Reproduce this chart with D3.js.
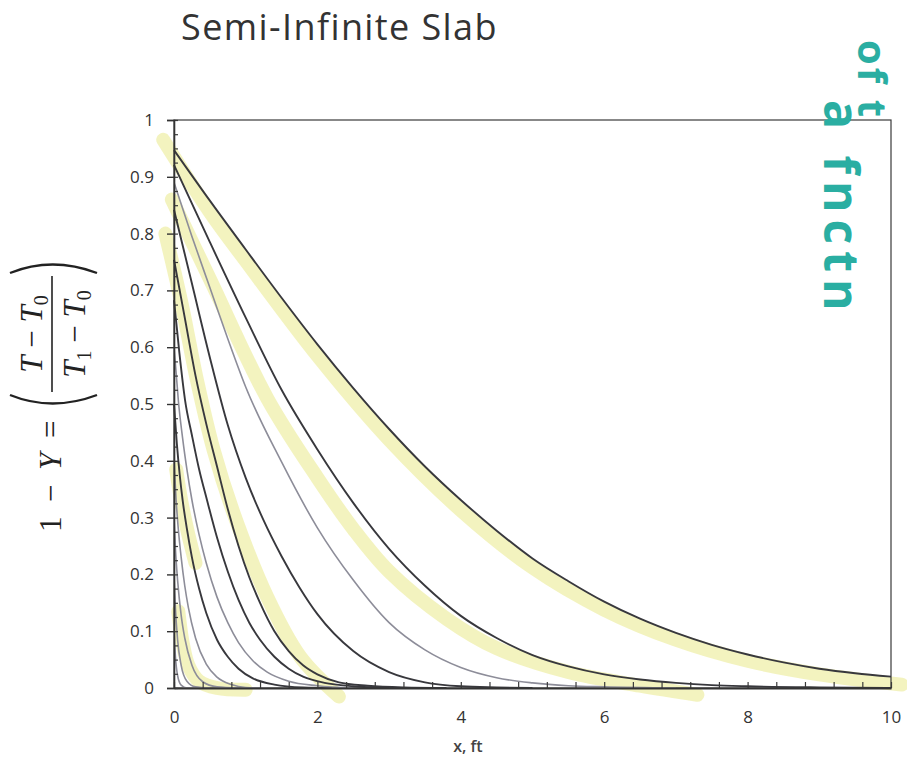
<!DOCTYPE html>
<html>
<head>
<meta charset="utf-8">
<script src="https://cdn.jsdelivr.net/npm/d3@7"></script>
<style>
  html, body { margin: 0; padding: 0; background: #fff; }
  svg { display: block; }
</style>
</head>
<body>
<div id="chart"></div>
<script>
// profiles 1 - Y vs x (ft), widest first
const curveNames = ['t1', 't2', 't3', 't4', 't5', 't6', 't7', 't8', 't9', 't10', 't11', 't12'];
const curveTones = ['dark', 'dark', 'gray', 'dark', 'dark', 'dark', 'gray', 'dark', 'gray', 'gray', 'gray', 'gray'];

const t1 = [[0, 0.947], [0.5, 0.858], [1.0, 0.772], [1.5, 0.687], [2.0, 0.605], [2.5, 0.528], [3.0, 0.456], [3.5, 0.39], [4.0, 0.331], [4.5, 0.277], [5.0, 0.228], [5.5, 0.188], [6.0, 0.152], [6.5, 0.122], [7.0, 0.097], [7.5, 0.076], [8.0, 0.059], [8.5, 0.045], [9.0, 0.034], [9.5, 0.026], [10, 0.02]];
const t2 = [[0, 0.921], [0.5, 0.785], [1.0, 0.652], [1.5, 0.525], [2.0, 0.42], [2.5, 0.326], [3.0, 0.245], [3.5, 0.18], [4.0, 0.127], [4.5, 0.088], [5.0, 0.058], [5.5, 0.038], [6.0, 0.024], [6.5, 0.015], [7.0, 0.009], [7.5, 0.005], [8.0, 0.003], [9.0, 0.001], [10, 0]];
const t3 = [[0, 0.89], [0.25, 0.795], [0.5, 0.705], [0.75, 0.615], [1.0, 0.53], [1.5, 0.398], [2.0, 0.282], [2.5, 0.19], [3.0, 0.115], [3.5, 0.067], [4.0, 0.036], [4.5, 0.018], [5.0, 0.009], [5.5, 0.004], [6.0, 0.002], [7.0, 0]];
const t4 = [[0, 0.842], [0.25, 0.712], [0.5, 0.582], [0.75, 0.463], [1.0, 0.37], [1.25, 0.295], [1.5, 0.232], [1.75, 0.177], [2.0, 0.13], [2.5, 0.065], [3.0, 0.028], [3.5, 0.01], [4.0, 0.003], [4.5, 0.001], [5.0, 0]];
const t5 = [[0, 0.754], [0.15, 0.652], [0.3, 0.55], [0.45, 0.465], [0.6, 0.39], [0.75, 0.315], [0.9, 0.25], [1.05, 0.195], [1.2, 0.15], [1.4, 0.1], [1.6, 0.065], [1.8, 0.04], [2.0, 0.024], [2.3, 0.01], [2.7, 0.004], [3.2, 0.001], [3.8, 0]];
const t6 = [[0, 0.683], [0.075, 0.59], [0.154, 0.507], [0.25, 0.445], [0.35, 0.385], [0.46, 0.331], [0.6, 0.265], [0.75, 0.205], [0.9, 0.155], [1.05, 0.115], [1.2, 0.085], [1.4, 0.055], [1.6, 0.034], [1.8, 0.02], [2.1, 0.009], [2.5, 0.003], [3.0, 0]];
const t7 = [[0, 0.6], [0.03, 0.555], [0.06, 0.507], [0.12, 0.44], [0.18, 0.385], [0.25, 0.331], [0.35, 0.27], [0.45, 0.22], [0.6, 0.16], [0.75, 0.115], [0.9, 0.08], [1.1, 0.048], [1.3, 0.028], [1.6, 0.012], [2.0, 0.004], [2.5, 0]];
const t8 = [[0, 0.5], [0.04, 0.43], [0.08, 0.375], [0.12, 0.331], [0.18, 0.28], [0.25, 0.23], [0.35, 0.175], [0.45, 0.132], [0.6, 0.085], [0.75, 0.055], [0.9, 0.034], [1.1, 0.017], [1.4, 0.006], [1.8, 0.001], [2.2, 0]];
const t9 = [[0, 0.4], [0.03, 0.33], [0.06, 0.28], [0.1, 0.23], [0.15, 0.18], [0.2, 0.142], [0.3, 0.088], [0.45, 0.042], [0.6, 0.019], [0.8, 0.006], [1.0, 0.001], [1.3, 0]];
const t10 = [[0, 0.3], [0.02, 0.245], [0.05, 0.19], [0.1, 0.128], [0.15, 0.088], [0.25, 0.04], [0.4, 0.011], [0.6, 0.002], [0.9, 0]];
const t11 = [[0, 0.2], [0.02, 0.14], [0.05, 0.085], [0.1, 0.04], [0.18, 0.012], [0.3, 0.002], [0.5, 0]];
const t12 = [[0, 0.1], [0.02, 0.055], [0.05, 0.022], [0.1, 0.005], [0.18, 0], [0.3, 0]];
const curves = [t1, t2, t3, t4, t5, t6, t7, t8, t9, t10, t11, t12];

// highlighter strokes someone put on the printout (data units)
const hl1 = [[-0.15, 0.965], [0.5, 0.838], [1.0, 0.752], [2.0, 0.585], [3.0, 0.437], [4.0, 0.313], [5.0, 0.212], [6.0, 0.138], [7.0, 0.085], [8.0, 0.048], [9.0, 0.024], [10.15, 0.006]];
const hl2 = [[-0.03, 0.86], [0.5, 0.72], [1.3, 0.51], [2.0, 0.37], [2.5, 0.28], [3.0, 0.205], [3.8, 0.122], [4.5, 0.07], [5.5, 0.028], [6.5, 0.004], [7.3, -0.012]];
const hl3 = [[-0.12, 0.8], [0.1, 0.68], [0.32, 0.542], [0.55, 0.42], [0.83, 0.308], [1.3, 0.16], [1.76, 0.055], [2.3, -0.015]];
const hl4 = [[0.03, 0.385], [0.1, 0.33], [0.2, 0.27], [0.3, 0.22]];
const hl5 = [[0.06, 0.135], [0.12, 0.08], [0.2, 0.04], [0.35, 0.012], [0.6, 0.0], [1.0, -0.003]];
const highlights = [hl1, hl2, hl3, hl4, hl5];

const xTicks = [0, 2, 4, 6, 8, 10];
const yTicks = [0, 0.1, 0.2, 0.3, 0.4, 0.5, 0.6, 0.7, 0.8, 0.9, 1];

const W = 907, H = 764;
const svg = d3.select('#chart').append('svg')
    .attr('width', W)
    .attr('height', H);

const x = d3.scaleLinear().domain([0, 10]).range([174, 891]);
const y = d3.scaleLinear().domain([0, 1]).range([688, 120]);

const line = d3.line()
    .x(d => x(d[0]))
    .y(d => y(d[1]))
    .curve(d3.curveMonotoneX);

const hlLine = d3.line()
    .x(d => x(d[0]))
    .y(d => y(d[1]))
    .curve(d3.curveCatmullRom);

// highlighter first, under everything
highlights.forEach(h => {
    svg.append('path')
        .attr('d', hlLine(h))
        .attr('fill', 'none')
        .attr('stroke', '#f1f1b4')
        .attr('stroke-opacity', 0.85)
        .attr('stroke-width', 14)
        .attr('stroke-linecap', 'round')
        .attr('stroke-linejoin', 'round');
});

// plot frame
svg.append('rect')
    .attr('x', x(0))
    .attr('y', y(1))
    .attr('width', x(10) - x(0))
    .attr('height', y(0) - y(1))
    .attr('fill', 'none')
    .attr('stroke', '#3a3a3a')
    .attr('stroke-width', 1.2);

// curves, narrow ones first so the wide ones sit on top
d3.range(curves.length).reverse().forEach(i => {
    const dark = curveTones[i] === 'dark';
    svg.append('path')
        .attr('class', 'curve ' + curveNames[i])
        .attr('d', line(curves[i]))
        .attr('fill', 'none')
        .attr('stroke', dark ? '#38383d' : '#8d8d99')
        .attr('stroke-width', dark ? 1.9 : 1.6);
});

const labelFont = '"Open Sans", "Liberation Sans", sans-serif';

// x axis: inner minor ticks every 0.4, labels every 2
svg.append('g')
    .attr('transform', `translate(0,${y(0)})`)
    .call(d3.axisBottom(x).tickValues(d3.range(0, 10.001, 0.4)).tickSize(-6).tickFormat(''))
    .call(g => g.select('.domain').remove())
    .call(g => g.selectAll('line').attr('stroke', '#3a3a3a').attr('stroke-width', 1.2));

svg.append('g')
    .attr('transform', `translate(0,${y(0)})`)
    .call(d3.axisBottom(x).tickValues(xTicks).tickSize(0).tickPadding(23).tickFormat(d3.format('d')))
    .call(g => g.select('.domain').attr('stroke', '#333').attr('stroke-width', 2.2))
    .call(g => g.selectAll('text')
        .attr('font-family', labelFont)
        .attr('font-size', 17)
        .attr('fill', '#333'));

// y axis: crossing major ticks, inner minor ticks every 0.025
svg.append('g')
    .attr('transform', `translate(${x(0)},0)`)
    .call(d3.axisLeft(y).tickValues(d3.range(0, 1.0001, 0.025)).tickSize(-4).tickFormat(''))
    .call(g => g.select('.domain').remove())
    .call(g => g.selectAll('line').attr('stroke', '#3a3a3a').attr('stroke-width', 1.2));

svg.append('g')
    .attr('transform', `translate(${x(0)},0)`)
    .call(d3.axisLeft(y).tickValues(yTicks).tickSize(7).tickPadding(13).tickFormat(d3.format('~g')))
    .call(g => g.select('.domain').attr('stroke', '#333').attr('stroke-width', 1.6))
    .call(g => g.selectAll('line').attr('stroke', '#333').attr('stroke-width', 1.4))
    .call(g => g.selectAll('text')
        .attr('font-family', labelFont)
        .attr('font-size', 17)
        .attr('fill', '#333'));

// titles
svg.append('text')
    .attr('x', 181)
    .attr('y', 40)
    .attr('font-family', labelFont)
    .attr('font-size', 36)
    .attr('letter-spacing', 1.4)
    .attr('fill', '#333')
    .text('Semi-Infinite Slab');

svg.append('text')
    .attr('x', x(4.1))
    .attr('y', 752)
    .attr('text-anchor', 'middle')
    .attr('font-family', labelFont)
    .attr('font-size', 16)
    .attr('font-weight', 600)
    .attr('fill', '#444')
    .text('x, ft');

// y label: 1 − Y = ((T − T0)/(T1 − T0)), rotated
const serif = '"Liberation Serif", "DejaVu Serif", serif';
const yl = svg.append('g')
    .attr('transform', 'translate(61,532) rotate(-90)')
    .attr('font-family', serif)
    .attr('font-size', 31)
    .attr('fill', '#222');

const lhs = yl.append('text').attr('x', 0).attr('y', 0);
lhs.append('tspan').text('1');
lhs.append('tspan').attr('x', 30).text('−');
lhs.append('tspan').attr('x', 62).attr('font-style', 'italic').text('Y');
lhs.append('tspan').attr('x', 94).text('=');

const fx = 140, fw = 116;
const num = yl.append('text')
    .attr('x', fx + fw / 2)
    .attr('y', -19)
    .attr('text-anchor', 'middle');
num.append('tspan').attr('font-style', 'italic').text('T');
num.append('tspan').text(' − ');
num.append('tspan').attr('font-style', 'italic').text('T');
num.append('tspan').attr('font-size', 20).attr('dy', 6).text('0');

const den = yl.append('text')
    .attr('x', fx + fw / 2)
    .attr('y', 24)
    .attr('text-anchor', 'middle');
den.append('tspan').attr('font-style', 'italic').text('T');
den.append('tspan').attr('font-size', 20).attr('dy', 6).text('1');
den.append('tspan').attr('dy', -6).text(' − ');
den.append('tspan').attr('font-style', 'italic').text('T');
den.append('tspan').attr('font-size', 20).attr('dy', 6).text('0');

yl.append('line')
    .attr('x1', fx).attr('x2', fx + fw)
    .attr('y1', -9).attr('y2', -9)
    .attr('stroke', '#222').attr('stroke-width', 1.6);

// big parentheses around the fraction
yl.append('path')
    .attr('d', `M${fx - 3},-51 Q${fx - 20},-9 ${fx - 3},36`)
    .attr('fill', 'none').attr('stroke', '#222').attr('stroke-width', 2.4);
yl.append('path')
    .attr('d', `M${fx + fw + 3},-51 Q${fx + fw + 20},-9 ${fx + fw + 3},36`)
    .attr('fill', 'none').attr('stroke', '#222').attr('stroke-width', 2.4);

// handwritten note in the corner
const note = svg.append('g')
    .attr('font-family', '"Open Sans", sans-serif')
    .attr('font-weight', 700)
    .attr('fill', '#2aaea2');
note.append('text')
    .attr('transform', 'translate(824,100) rotate(90)')
    .attr('font-size', 48)
    .attr('letter-spacing', 7)
    .text('a fnctn');
note.append('text')
    .attr('transform', 'translate(858,40) rotate(90)')
    .attr('font-size', 40)
    .attr('letter-spacing', 3)
    .text('of t');
</script>
</body>
</html>
